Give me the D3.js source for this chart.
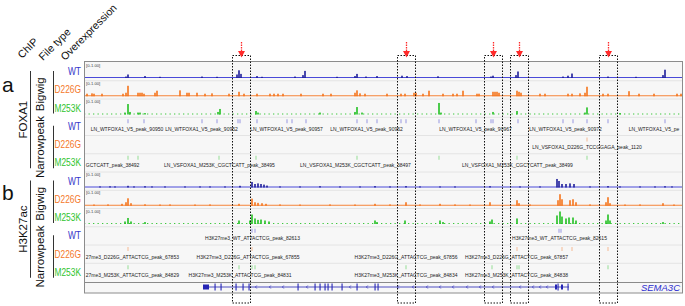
<!DOCTYPE html>
<html>
<head>
<meta charset="utf-8">
<script src="https://cdn.jsdelivr.net/npm/d3@7"></script>
<style>
  body { margin: 0; background: #fff; }
  svg { display: block; }
</style>
</head>
<body>
<div id="chart"></div>
<script>
const WIDTH = 685;
const HEIGHT = 306;

// view window, kb from left edge of the browser view
const VIEW = [0, 598];

const samples = ["WT", "D226G", "M253K"];
const chips = ["FOXA1", "H3K27ac"];
const fileTypes = ["Bigwig", "Narrowpeak"];

// bigwig signal: [position, value 0-1]
const foxa1WtBw = [[42,.08],[44,.25],[61,.12],[76,.06],[118,.08],[133,.06],[153,.25],[155,.6],[157,.3],[173,.12],[178,.06],
  [211,.08],[219,.2],[221,.55],[253,.06],[271,.12],[273,.3],[282,.08],[293,.12],[318,.15],[323,.12],[354,.1],
  [407,.08],[409,.15],[432,.2],[434,.5],[479,.08],[484,.15],[488,.33],[524,.08],[552,.06],[579,.2],[581,.65]];
const foxa1D226gBw = [[3,.17],[8,.2],[10,.17],[18,.17],[39,.17],[42,.25],[44,.83],[54,.25],[56,.25],[58,.25],[60,.17],
  [71,.25],[73,.42],[96,.45],[103,.25],[105,.25],[113,.25],[121,.17],[128,.2],[145,.17],[155,.33],[160,.17],
  [173,.17],[186,.17],[190,.17],[194,.17],[199,.17],[217,.17],[239,.17],[247,.17],[271,.25],[273,.45],[276,.2],
  [281,.17],[303,.17],[317,.17],[321,.17],[330,.25],[332,.25],[339,.17],[345,.42],[359,.17],[369,.17],[373,.17],
  [379,.42],[393,.17],[395,.17],[409,.33],[411,.33],[413,.33],[415,.25],[433,.42],[435,.33],[437,.25],[456,.17],
  [461,.17],[484,.17],[488,.17],[496,.2],[501,.25],[503,.75],[519,.17],[524,.17],[545,.38],[555,.17],[570,.17],
  [593,.17],[597,.17]];
const foxa1M253kBw = [[41,.12],[44,.83],[46,.17],[54,.12],[56,.12],[61,.08],[134,.17],[136,.42],[172,.25],[174,.12],
  [236,.12],[271,.17],[273,.58],[278,.12],[355,.92],[357,.12],[409,.17],[433,.25],[501,.12],[503,.55],[536,.08]];
const h3kWtBw = [[16,.05],[26,.06],[31,.05],[44,.1],[50,.05],[61,.07],[68,.05],[81,.05],[101,.05],[116,.05],[126,.05],
  [141,.05],[156,.1],[168,.42],[171,.25],[174,.3],[177,.25],[180,.2],[183,.12],[196,.05],[216,.05],[236,.07],
  [256,.05],[276,.05],[291,.08],[306,.05],[322,.08],[336,.05],[356,.05],[371,.05],[406,.07],[436,.05],[456,.05],
  [473,.67],[475,.5],[478,.25],[482,.25],[486,.3],[490,.25],[506,.05],[524,.08],[536,.05],[556,.05],[571,.05],
  [581,.07],[588,.05]];
const h3kD226gBw = [[10,.06],[24,.07],[38,.12],[42,.25],[44,.58],[47,.17],[61,.08],[76,.06],[86,.07],[111,.06],
  [126,.07],[155,.12],[168,.55],[171,.25],[174,.2],[178,.17],[182,.12],[196,.07],[216,.06],[246,.07],[271,.06],
  [291,.12],[306,.07],[322,.25],[336,.07],[356,.12],[371,.07],[386,.06],[406,.25],[433,.42],[435,.17],[446,.07],
  [474,.42],[476,.92],[478,.5],[486,.42],[489,.5],[492,.25],[506,.07],[522,.25],[524,.67],[526,.17],[541,.06],
  [556,.07],[579,.17],[590,.06]];
const h3kM253kBw = [[41,.17],[44,.46],[47,.17],[61,.12],[155,.25],[166,.25],[168,.75],[171,.42],[174,.3],[177,.33],
  [181,.25],[185,.17],[291,.25],[293,.12],[321,.25],[356,.25],[359,.12],[406,.17],[408,.33],[433,.42],[473,.67],
  [476,1.0],[478,.58],[482,.42],[485,.5],[489,.5],[492,.25],[522,.25],[524,.75],[526,.25],[579,.12]];

// narrowpeak features (positions) and their shown names (label centre, name)
const foxa1WtPeaks = [44,60,118,133,154,156,173,203,208,222,273,283,293,317,322,355,392,407,409,434,479,489,503,524,581];
const foxa1WtNames = [[43,"LN_WTFOXA1_V5_peak_90950"],[117.5,"LN_WTFOXA1_V5_peak_90952"],[202.5,"LN_WTFOXA1_V5_peak_90957"],
  [282.5,"LN_WTFOXA1_V5_peak_90962"],[391.5,"LN_WTFOXA1_V5_peak_90967"],[481.5,"LN_WTFOXA1_V5_peak_90972"],
  [581,"LN_WTFOXA1_V5_peak_90977"]];
const foxa1D226gPeaks = [503];
const foxa1D226gNames = [[503,"LN_VSFOXA1_D226G_TCCGGAGA_peak_1120"]];
const foxa1M253kPeaks = [44,54,135,172,273,355,433,503];
const foxa1M253kNames = [[0,"LN_VSFOXA1_M253K_CGCTCATT_peak_38492"],[135.5,"LN_VSFOXA1_M253K_CGCTCATT_peak_38495"],
  [271.5,"LN_VSFOXA1_M253K_CGCTCATT_peak_38497"],[433.5,"LN_VSFOXA1_M253K_CGCTCATT_peak_38499"]];
const h3kWtPeaks = [168,171,475,477];
const h3kWtNames = [[168.5,"H3K27me3_WT_ATTACTCG_peak_82613"],[475.5,"H3K27me3_WT_ATTACTCG_peak_82615"]];
const h3kD226gPeaks = [44,168,433,478,488,524];
const h3kD226gNames = [[43.5,"H3K27me3_D226G_ATTACTCG_peak_67853"],[164,"H3K27me3_D226G_ATTACTCG_peak_67855"],
  [322,"H3K27me3_D226G_ATTACTCG_peak_67856"],[432.5,"H3K27me3_D226G_ATTACTCG_peak_67857"]];
const h3kM253kPeaks = [44,155,168,171,322,408,433,435,524];
const h3kM253kNames = [[43.5,"H3K27me3_M253K_ATTACTCG_peak_84829"],[156,"H3K27me3_M253K_ATTACTCG_peak_84831"],
  [322,"H3K27me3_M253K_ATTACTCG_peak_84834"],[432.5,"H3K27me3_M253K_ATTACTCG_peak_84838"]];

// SEMA3C gene model
const geneName = "SEMA3C";
const geneSpan = [119, 485];
const geneThick = [[119,125],[471,473],[477,479]];
const geneExons = [131,137,152,159,165,214,231,236,241,244,248,258,273,291,294,474,484];
const geneChevrons = [172,186,199,223,266,283,314,329,343,356,369,383,396,409,436,449,456,463];

// highlighted regions with arrows
const highlights = [[148,166],[313,331],[400,418],[426,444],[515,533]];

// ---------- style ----------
const COLORS = { WT: "#3434c8", D226G: "#f4782a", M253K: "#2fc42f" };
const BAR = { WT: "#1d1d9a", D226G: "#f4741c", M253K: "#22c022" };
const LINE = { WT: "#4a4ad8", D226G: "#f6843a", M253K: "#3cc83c" };
const SANS = "'Liberation Sans', Arial, sans-serif";

const PANEL = { LEFT: 84, RIGHT: 682, TOP: 62, BOTTOM: 293 };

const SVG = d3.select("#chart").append("svg")
  .attr("width", WIDTH)
  .attr("height", HEIGHT);

const x = d3.scaleLinear().domain(VIEW).range([PANEL.LEFT, PANEL.RIGHT]);

// one row per chip x fileType x sample
const rows = [];
chips.forEach((c, ci) => fileTypes.forEach((f, fi) => samples.forEach(s => rows.push({ chip: c, type: f, sample: s, ci, fi }))));
const bwData = {
  "FOXA1 WT": foxa1WtBw, "FOXA1 D226G": foxa1D226gBw, "FOXA1 M253K": foxa1M253kBw,
  "H3K27ac WT": h3kWtBw, "H3K27ac D226G": h3kD226gBw, "H3K27ac M253K": h3kM253kBw
};
const npData = {
  "FOXA1 WT": [foxa1WtPeaks, foxa1WtNames], "FOXA1 D226G": [foxa1D226gPeaks, foxa1D226gNames],
  "FOXA1 M253K": [foxa1M253kPeaks, foxa1M253kNames],
  "H3K27ac WT": [h3kWtPeaks, h3kWtNames], "H3K27ac D226G": [h3kD226gPeaks, h3kD226gNames],
  "H3K27ac M253K": [h3kM253kPeaks, h3kM253kNames]
};

const rowY = d3.scaleBand().domain(d3.range(rows.length)).range([PANEL.TOP, 281]);

// panel background
SVG.append("rect")
  .attr("x", PANEL.LEFT).attr("y", PANEL.TOP)
  .attr("width", PANEL.RIGHT - PANEL.LEFT).attr("height", PANEL.BOTTOM - PANEL.TOP)
  .attr("fill", "#f7f7f7");

SVG.append("clipPath").attr("id", "clip")
  .append("rect")
  .attr("x", PANEL.LEFT).attr("y", PANEL.TOP)
  .attr("width", PANEL.RIGHT - PANEL.LEFT).attr("height", PANEL.BOTTOM - PANEL.TOP);

const container = SVG.append("g").attr("clip-path", "url(#clip)");

// track separators
container.selectAll(".sep")
  .data(d3.range(1, rows.length))
  .enter().append("line")
  .attr("x1", PANEL.LEFT).attr("x2", PANEL.RIGHT)
  .attr("y1", d => rowY(d) + 0.5).attr("y2", d => rowY(d) + 0.5)
  .attr("stroke", "#e4e4e4");

rows.forEach((r, i) => {
  const top = rowY(i);
  const key = r.chip + " " + r.sample;
  const g = container.append("g");
  if (r.type === "Bigwig") {
    const base = top + 15.5;
    const y = d3.scaleLinear().domain([0, 1]).range([base, base - 12]);
    g.append("line")
      .attr("x1", PANEL.LEFT).attr("x2", PANEL.RIGHT)
      .attr("y1", base).attr("y2", base)
      .attr("stroke", LINE[r.sample])
      .attr("stroke-width", 1)
      .attr("stroke-dasharray", r.sample === "M253K" ? "1.3,3.2" : null);
    g.selectAll("rect")
      .data(bwData[key])
      .enter().append("rect")
      .attr("x", d => x(d[0]) - 0.8)
      .attr("width", d => x(d[0] + 1.6) - x(d[0]))
      .attr("y", d => y(d[1]))
      .attr("height", d => base - y(d[1]) + 0.5)
      .attr("fill", BAR[r.sample]);
    g.append("text")
      .attr("x", PANEL.LEFT + 2).attr("y", top + 4.6)
      .attr("font-family", SANS).attr("font-size", 4.2)
      .attr("fill", "#444")
      .text("[0-1.00]");
  } else {
    const [peaks, names] = npData[key];
    g.selectAll("rect")
      .data(peaks)
      .enter().append("rect")
      .attr("x", d => x(d) - 0.7)
      .attr("width", d => x(d + 1.4) - x(d))
      .attr("y", top + 2.5)
      .attr("height", 4)
      .attr("fill", COLORS[r.sample])
      .attr("opacity", 0.35);
    g.selectAll("text")
      .data(names)
      .enter().append("text")
      .attr("x", d => x(d[0]))
      .attr("y", top + 14)
      .attr("text-anchor", "middle")
      .attr("font-family", SANS).attr("font-size", 5)
      .attr("fill", "#222")
      .text(d => d[1])
      .each(function (d) {
        // like the browser view: a name running off an edge is cut there
        const w = this.getComputedTextLength();
        const l = x(d[0]) - w / 2, r = x(d[0]) + w / 2;
        const el = d3.select(this);
        let s = d[1];
        if (l < PANEL.LEFT) {
          el.attr("text-anchor", "end").attr("x", r);
          while (s.length && r - this.getComputedTextLength() < PANEL.LEFT + 0.5) {
            s = s.slice(1);
            el.text(s);
          }
        } else if (r > PANEL.RIGHT) {
          el.attr("text-anchor", "start").attr("x", l);
          while (s.length && l + this.getComputedTextLength() > PANEL.RIGHT - 0.5) {
            s = s.slice(0, -1);
            el.text(s);
          }
        }
      });
  }
});

// gene track
const geneY = 287;
container.append("line")
  .attr("x1", PANEL.LEFT).attr("x2", PANEL.RIGHT)
  .attr("y1", 282.5).attr("y2", 282.5)
  .attr("stroke", "#8a8a8a");
const gene = container.append("g").attr("fill", "#2424b4").attr("stroke", "#2424b4");
gene.append("line")
  .attr("x1", x(geneSpan[0])).attr("x2", x(geneSpan[1]))
  .attr("y1", geneY).attr("y2", geneY)
  .attr("stroke-width", 0.8);
gene.selectAll(".thick")
  .data(geneThick)
  .enter().append("rect")
  .attr("x", d => x(d[0])).attr("width", d => x(d[1]) - x(d[0]))
  .attr("y", geneY - 2.5).attr("height", 5)
  .attr("stroke", "none");
gene.selectAll(".exon")
  .data(geneExons)
  .enter().append("rect")
  .attr("x", d => x(d) - 0.5).attr("width", 1.1)
  .attr("y", geneY - 3.5).attr("height", 7)
  .attr("stroke", "none");
gene.selectAll(".chev")
  .data(geneChevrons)
  .enter().append("path")
  .attr("d", d => `M${x(d) + 0.8},${geneY - 1.5}L${x(d) - 0.6},${geneY}L${x(d) + 0.8},${geneY + 1.5}`)
  .attr("fill", "none")
  .attr("stroke-width", 0.7);
SVG.append("text")
  .attr("x", 680).attr("y", 291)
  .attr("text-anchor", "end")
  .attr("font-family", SANS).attr("font-size", 9.5)
  .attr("font-style", "italic")
  .attr("fill", "#2b2bcf")
  .text(geneName);

// panel frame
SVG.append("rect")
  .attr("x", PANEL.LEFT + 0.5).attr("y", PANEL.TOP - 0.5)
  .attr("width", PANEL.RIGHT - PANEL.LEFT).attr("height", PANEL.BOTTOM - PANEL.TOP + 0.5)
  .attr("fill", "none")
  .attr("stroke", "#8c8c8c");

// dotted highlight boxes + arrows
SVG.selectAll(".hl")
  .data(highlights)
  .enter().append("rect")
  .attr("x", d => x(d[0]) + 0.5).attr("width", d => x(d[1]) - x(d[0]))
  .attr("y", 55.5).attr("height", 247.5)
  .attr("fill", "none")
  .attr("stroke", "#111")
  .attr("stroke-width", 1)
  .attr("stroke-dasharray", "1.5,1.5");
SVG.selectAll(".arrowline")
  .data(highlights)
  .enter().append("line")
  .attr("x1", d => x((d[0] + d[1]) / 2) + 0.5).attr("x2", d => x((d[0] + d[1]) / 2) + 0.5)
  .attr("y1", 42).attr("y2", 52)
  .attr("stroke", "#ff2a2a")
  .attr("stroke-width", 1.3)
  .attr("stroke-dasharray", "1.5,1");
SVG.selectAll(".arrowhead")
  .data(highlights)
  .enter().append("path")
  .attr("d", d => {
    const cx = x((d[0] + d[1]) / 2) + 0.5;
    return `M${cx - 3.5},51L${cx + 3.5},51L${cx},57.5Z`;
  })
  .attr("fill", "#ff2a2a");

// left-hand labels
const left = SVG.append("g").attr("font-family", SANS);

[["ChIP", 22, 59], ["File type", 43, 61], ["Overexpression", 65, 61]].forEach(([t, tx, ty]) => {
  left.append("text")
    .attr("transform", `translate(${tx},${ty}) rotate(-45)`)
    .attr("font-size", 10.6)
    .attr("fill", "#111")
    .text(t);
});

left.append("text").attr("x", 2).attr("y", 92).attr("font-size", 21).attr("fill", "#111").text("a");
left.append("text").attr("x", 2).attr("y", 200).attr("font-size", 21).attr("fill", "#111").text("b");

chips.forEach((c, ci) => {
  const first = rows.findIndex(r => r.ci === ci);
  const y0 = rowY(first) + 9, y1 = rowY(first + 5) + 15;
  left.append("line")
    .attr("x1", 30.5).attr("x2", 30.5).attr("y1", y0).attr("y2", y1)
    .attr("stroke", "#333");
  left.append("text")
    .attr("transform", `translate(27,${(y0 + y1) / 2}) rotate(-90)`)
    .attr("text-anchor", "middle")
    .attr("font-size", 11.5)
    .attr("fill", "#111")
    .text(c);
  fileTypes.forEach((f, fi) => {
    const a = rowY(first + fi * 3) + 9, b = rowY(first + fi * 3 + 2) + 15;
    left.append("line")
      .attr("x1", 53.5).attr("x2", 53.5).attr("y1", a).attr("y2", b)
      .attr("stroke", "#333");
    left.append("text")
      .attr("transform", `translate(44,${(a + b) / 2 + (fi ? 0 : 2)}) rotate(-90)`)
      .attr("text-anchor", "middle")
      .attr("font-size", 11.5)
      .attr("fill", "#111")
      .text(f);
  });
});

// sample names, slightly condensed to fit between bracket and panel
left.selectAll(".sample")
  .data(rows)
  .enter().append("text")
  .attr("transform", (d, i) => `translate(81,${rowY(i) + 9.5}) scale(0.84,1)`)
  .attr("dy", "0.35em")
  .attr("text-anchor", "end")
  .attr("font-size", 10)
  .attr("fill", d => COLORS[d.sample])
  .text(d => d.sample);
</script>
</body>
</html>
